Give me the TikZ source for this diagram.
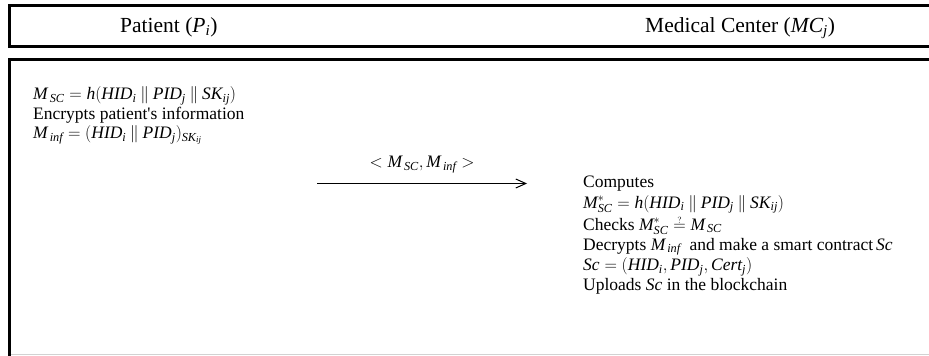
\documentclass[tikz,border=0pt]{standalone}
\usepackage{fontspec}
\setmainfont{Liberation Serif}
\usetikzlibrary{arrows.meta}

% italic formula in the running text
\newcommand\fm[1]{$\mathit{#1}$}
\newcommand\cat{\mathbin{\|}}
% equals sign with a small question mark set just above it
\newcommand\qeq{\mathrel{\hbox{\ooalign{\hfil\raisebox{0.8ex}{$\scriptscriptstyle ?$}\hfil\cr$=$\cr}}}}

\tikzset{
  frame/.style={draw=black, line width=3pt},
  headtext/.style={inner sep=0pt, anchor=base west, font=\fontsize{21.5}{25}\selectfont},
  bodytext/.style={inner sep=0pt, anchor=base west, font=\fontsize{17.5}{21}\selectfont},
  msg/.style={line width=1pt, -{Straight Barb[length=10pt,width=9pt,line width=1pt]}}
}

\begin{document}
\begin{tikzpicture}[x=1pt, y=-1pt]
  \useasboundingbox (0,0) rectangle (929,356);
  \clip (0,0) rectangle (929,356);

  % header band and body frame (open to the right)
  \draw[frame] (9.5,5) rectangle (945,46);
  \draw[frame] (9.5,59.5) rectangle (945,380);
  \draw[gray!35, line width=1pt] (11,354.5) -- (929,354.5);

  % column titles
  \node[headtext] (patient) at (120,32.5) {Patient (\fm{P_i})};
  \node[headtext] (center) at (645,32.5) {Medical Center (\fm{MC_j})};

  % patient side
  \node[bodytext] (p1) at (33,99.5) {\fm{M_{\,SC} = h(HID_i \cat PID_j \cat SK_{ij})}};
  \node[bodytext] (p2) at (33,119) {Encrypts patient\textquotesingle s information};
  \node[bodytext] (p3) at (33,138.5) {\fm{M_{\,inf} = (HID_i \cat PID_j)_{SK_{ij}}}};

  % message to the medical center
  \coordinate (msgstart) at (317,183.5);
  \coordinate (msgend) at (527,183.5);
  \draw[msg] (msgstart) -- (msgend)
    node[midway, above=10pt, inner sep=0pt, font=\fontsize{17.5}{21}\selectfont] (msglabel)
    {\fm{<M_{\,SC}, M_{\,inf}>}};

  % medical center side
  \node[bodytext] (m1) at (583,187) {Computes};
  \node[bodytext] (m2) at (583,208) {\fm{M^{\ast}_{SC} = h(HID_i \cat PID_j \cat SK_{ij})}};
  \node[bodytext] (m3) at (583,230) {Checks \fm{M^{\ast}_{SC} \qeq M_{\,SC}}};
  \node[bodytext] (m4) at (583,250) {Decrypts \fm{M_{\,inf}}\ \ and make a smart contract\,\fm{Sc}};
  \node[bodytext] (m5) at (583,270.5) {\fm{Sc = (HID_i, PID_j, Cert_j)}};
  \node[bodytext] (m6) at (583,290.5) {Uploads \fm{Sc} in the blockchain};
\end{tikzpicture}
\end{document}
